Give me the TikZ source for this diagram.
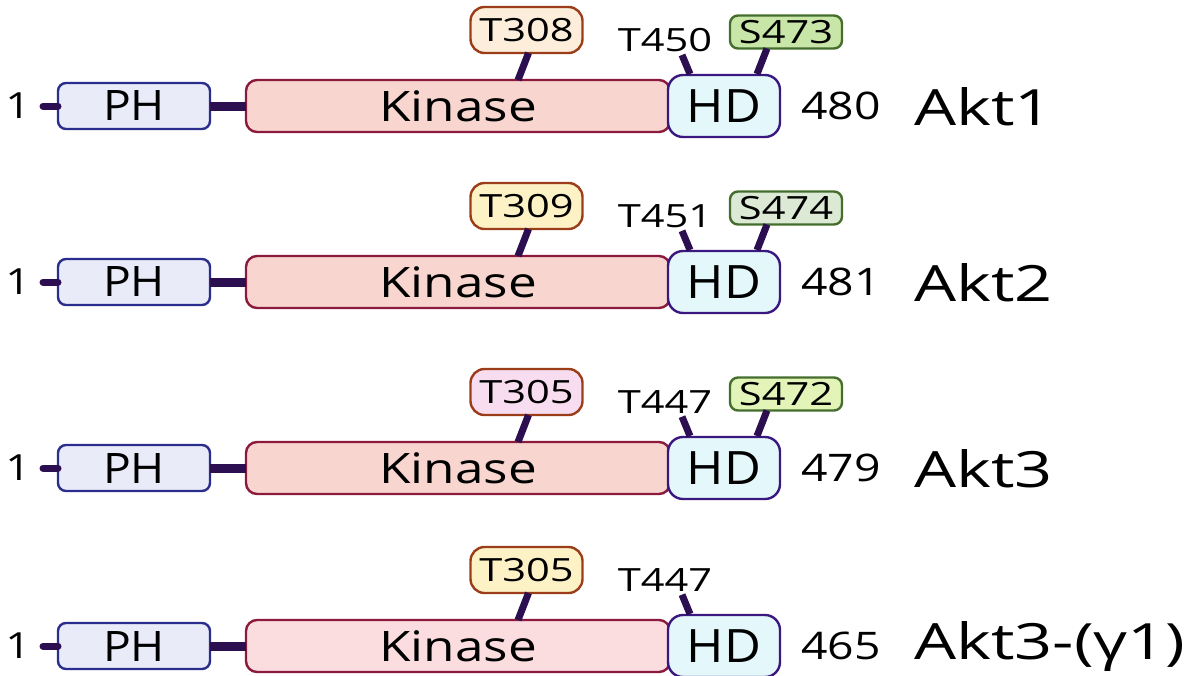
\documentclass[tikz,border=0pt]{standalone}
\usepackage{fontspec}
\setmainfont{Open Sans}
\newfontfamily\fwide{Open Sans}[FakeStretch=1.22]
\newfontfamily\fakt{Open Sans}[FakeStretch=1.33]
\newfontfamily\fwider{Open Sans}[FakeStretch=1.3]
\newfontfamily\fdom{Open Sans}[FakeStretch=1.1]
\usetikzlibrary{calc}
\definecolor{linker}{HTML}{2B0F50}
\definecolor{phfill}{HTML}{E9EBF9}
\definecolor{phdraw}{HTML}{2B2D8C}
\definecolor{kfill}{HTML}{F8D6CF}
\definecolor{kfillb}{HTML}{FBDDE0}
\definecolor{kdraw}{HTML}{8C1A3C}
\definecolor{hdfill}{HTML}{E4F8FB}
\definecolor{hddraw}{HTML}{3B1780}
\definecolor{tdraw}{HTML}{9C3D1A}
\definecolor{tfa}{HTML}{FDEEDB}
\definecolor{tfb}{HTML}{FDF1C6}
\definecolor{tfc}{HTML}{F8DCEF}
\definecolor{sdraw}{HTML}{456E2E}
\definecolor{sfa}{HTML}{C9E6A9}
\definecolor{sfb}{HTML}{DCE9D4}
\definecolor{sfc}{HTML}{E3F4B8}
\tikzset{
  dom/.style={draw, line width=2.4pt, inner sep=0pt, outer sep=0pt},
  phbox/.style={dom, draw=phdraw, fill=phfill, rounded corners=8pt, minimum width=152pt, minimum height=46pt, font=\fdom\fontsize{42}{42}\selectfont},
  kbox/.style={dom, draw=kdraw, rounded corners=11pt, minimum width=424pt, minimum height=52pt, font=\fwide\fontsize{42}{42}\selectfont},
  hdbox/.style={dom, draw=hddraw, fill=hdfill, rounded corners=15pt, minimum width=112pt, minimum height=62pt, font=\fdom\fontsize{46}{46}\selectfont},
  tbox/.style={dom, draw=tdraw, rounded corners=14pt, minimum width=112pt, minimum height=46pt, font=\fwider\fontsize{32}{32}\selectfont},
  sbox/.style={dom, draw=sdraw, rounded corners=8pt, minimum width=112pt, minimum height=33pt, font=\fwider\fontsize{32}{32}\selectfont},
  lbl/.style={inner sep=0pt, font=\fwider\fontsize{32}{32}\selectfont},
  onelbl/.style={inner sep=0pt, font=\fwide\fontsize{36}{36}\selectfont},
  numlbl/.style={inner sep=0pt, font=\fwide\fontsize{38}{38}\selectfont},
  aktlbl/.style={inner sep=0pt, anchor=west, font=\fakt\fontsize{50}{50}\selectfont},
  stem/.style={draw=linker, line width=7pt},
  link/.style={draw=linker, line width=9pt},
  stub/.style={draw=linker, line width=7pt, line cap=round},
}
\begin{document}
\begin{tikzpicture}[x=1pt, y=-1pt]
\useasboundingbox (0,0) rectangle (1196,675);
\foreach \i/\yc/\tl/\tf/\ta/\sl/\sf/\n/\nm/\kf in {
  1/106/T308/tfa/T450/S473/sfa/480/Akt1/kfill,
  2/282/T309/tfb/T451/S474/sfb/481/Akt2/kfill,
  3/468/T305/tfc/T447/S472/sfc/479/Akt3/kfill,
  4/646/T305/tfb/T447/none/none/465/Akt3-(γ1)/kfillb}{
  \node[onelbl] (one\i) at (18,\yc) {1};
  \coordinate (st\i) at (43,\yc);
  \node[phbox] (ph\i) at (134,\yc) {PH};
  \node[kbox, fill=\kf] (k\i) at (458,\yc) {Kinase};
  \draw[stub] (st\i) -- (ph\i.west);
  \draw[link] (ph\i.east) -- (k\i.west);
  \node[tbox, fill=\tf] (t\i) at (526.5,\yc-76) {\tl};
  \draw[stem] ([xshift=2pt]t\i.south) -- ([xshift=60pt]k\i.north);
  \node[hdbox] (hd\i) at (724,\yc) {HD};
  \node[lbl] (ta\i) at (665,\yc-66) {\ta};
  \draw[stem] ([xshift=17pt,yshift=-3pt]ta\i.south) -- ([xshift=-34pt,yshift=1pt]hd\i.north);
  \ifnum\i<4
    \node[sbox, fill=\sf] (s\i) at (786,\yc-74) {\sl};
    \draw[stem] ([xshift=-19pt]s\i.south) -- ([xshift=33pt,yshift=1pt]hd\i.north);
  \fi
  \node[numlbl] (n\i) at (841,\yc) {\n};
  \node[aktlbl] (a\i) at (914,\yc+1) {\nm};
}
\end{tikzpicture}
\end{document}
